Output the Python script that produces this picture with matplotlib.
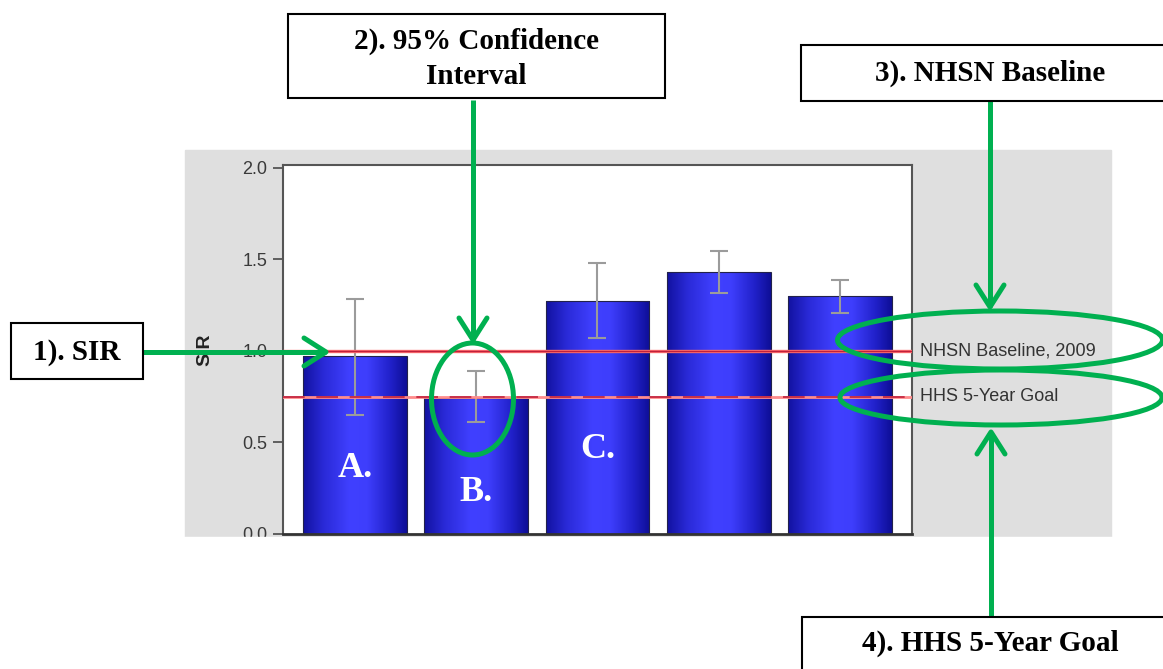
import numpy as np
import matplotlib.pyplot as plt
from matplotlib.patches import Rectangle, Ellipse
from matplotlib.colors import LinearSegmentedColormap
from matplotlib.transforms import blended_transform_factory

W, H = 1163, 669

# data
groups = ['A.', 'B.', 'C.', '', '']
sir = [0.97, 0.745, 1.275, 1.43, 1.30]
ci_low = [0.65, 0.61, 1.07, 1.315, 1.21]
ci_high = [1.285, 0.89, 1.48, 1.545, 1.39]
letter_y = [0.36, 0.225, 0.46, 0, 0]
baseline = 1.0
goal = 0.75
yticks = [0.0, 0.5, 1.0, 1.5, 2.0]
ref_labels = ['NHSN Baseline, 2009', 'HHS 5-Year Goal']
callouts = ['1). SIR', '2). 95% Confidence\nInterval', '3). NHSN Baseline', '4). HHS 5-Year Goal']

green = '#00b050'
serif = 'Liberation Serif'
sans = 'Liberation Sans'

fig = plt.figure(figsize=(W/100, H/100), dpi=100)

def frect(x0, y0, x1, y1):
    return [x0/W, 1 - y1/H, (x1 - x0)/W, (y1 - y0)/H]

# grey chart panel
fig.patches.append(Rectangle((185/W, 1 - 537/H), (1111 - 185)/W, (537 - 150)/H,
                             transform=fig.transFigure, color='#dfdfdf', zorder=-1))

ax = fig.add_axes(frect(283, 165, 912, 534))
x = np.arange(len(sir))
sir_a = np.array(sir)
err = [sir_a - np.array(ci_low), np.array(ci_high) - sir_a]

bars = ax.bar(x, sir, width=0.857, color='#3030e0', zorder=2)
cmap = LinearSegmentedColormap.from_list(
    'bar', [(0, '#1212a0'), (0.2, '#2a2ad8'), (0.45, '#4040ff'),
            (0.62, '#3e3efc'), (0.85, '#2020c8'), (1, '#0e0e96')])
grad = np.linspace(0, 1, 256)[None, :]
for b in bars:
    x0, y0, w, h = b.get_x(), b.get_y(), b.get_width(), b.get_height()
    im = ax.imshow(grad, cmap=cmap, extent=[x0, x0 + w, y0, y0 + h],
                   aspect='auto', zorder=2.1, interpolation='bicubic')
    im.set_clip_path(b)
ax.bar(x, sir, width=0.857, fill=False, edgecolor='#22224a', linewidth=0.8, zorder=2.2)

ax.errorbar(x, sir, yerr=err, fmt='none', ecolor='#9b9b9b', elinewidth=1.5,
            capsize=6.5, capthick=1.5, zorder=3)

ax.axhline(baseline, color='#ff7070', lw=2.4, zorder=4)
ax.axhline(baseline, color='#c0203c', lw=1.0, zorder=4.1)
ax.axhline(goal, color='#ff8c8c', lw=2.0, zorder=4)
ax.axhline(goal, color='#c0203c', lw=1.2, dashes=(13, 7), zorder=4.1)

trans = blended_transform_factory(ax.transAxes, ax.transData)
for val, lab in zip([baseline, goal], ref_labels):
    ax.text(1.0127, val, lab, transform=trans, va='center', ha='left',
            fontsize=13, family=sans, color='#333333', clip_on=False)

for i, g in enumerate(groups):
    if g:
        ax.text(i, letter_y[i], g, color='white', fontsize=26, fontweight='bold',
                family=serif, ha='center', va='center', zorder=5)

ax.set_xlim(-0.594, 4.594)
ax.set_ylim(0, 2.016)
ax.set_xticks([])
ax.set_yticks(yticks)
ax.set_yticklabels(['%.1f' % t for t in yticks], family=sans)
ax.tick_params(axis='y', length=7.2, width=1.3, color='#555555', labelsize=13,
               labelcolor='#3a3a3a', pad=4)
ax.set_ylabel('SIR', fontsize=14, fontweight='bold', family=sans, color='#222222')
ax.yaxis.set_label_coords(-0.11, 0.5)
for key in ['left', 'top', 'right']:
    ax.spines[key].set_color('#555555')
    ax.spines[key].set_linewidth(1.5)
ax.spines['bottom'].set_color('#333333')
ax.spines['bottom'].set_linewidth(2)

# overlay in pixel coordinates for the call-outs
ov = fig.add_axes([0, 0, 1, 1], zorder=10)
ov.set_xlim(0, W)
ov.set_ylim(H, 0)
ov.axis('off')

# chart was cropped just below the x axis
ov.add_patch(Rectangle((0, 537), W, H - 537, color='white', zorder=0))

def arrow(x0, y0, x1, y1, hl=22, hw=14):
    ov.plot([x0, x1], [y0, y1], color=green, lw=3.6, solid_capstyle='butt', zorder=2)
    d = np.array([x1 - x0, y1 - y0], dtype=float)
    d /= np.hypot(*d)
    n = np.array([-d[1], d[0]])
    tip = np.array([x1, y1])
    p1 = tip - d*hl + n*hw
    p2 = tip - d*hl - n*hw
    ov.plot([p1[0], x1, p2[0]], [p1[1], y1, p2[1]], color=green, lw=3.6,
            solid_capstyle='round', solid_joinstyle='round', zorder=2)

arrow(143, 352, 326, 352)
arrow(473, 100, 473, 340)
arrow(990, 101, 990, 307)
arrow(991, 617, 991, 432)

for (cx, cy, w, h) in [(1000, 340, 325, 58), (1001, 397.5, 322, 55), (472.5, 399, 82, 112)]:
    ov.add_patch(Ellipse((cx, cy), w, h, fill=False, edgecolor=green, lw=3.6, zorder=2))

boxes = [(11, 323, 143, 379), (288, 14, 665, 98), (801, 45, 1175, 101), (802, 617, 1175, 690)]
text_pos = [(77, 352), (476, 59), (990, 73), (990, 643)]
for (x0, y0, x1, y1), (tx, ty), txt in zip(boxes, text_pos, callouts):
    ov.add_patch(Rectangle((x0, y0), x1 - x0, y1 - y0, facecolor='white',
                           edgecolor='black', lw=1.5, zorder=3))
    ov.text(tx, ty, txt, ha='center', va='center', fontsize=21, fontweight='bold',
            family=serif, linespacing=1.4, zorder=4)

fig.savefig('out.png', dpi=100)
